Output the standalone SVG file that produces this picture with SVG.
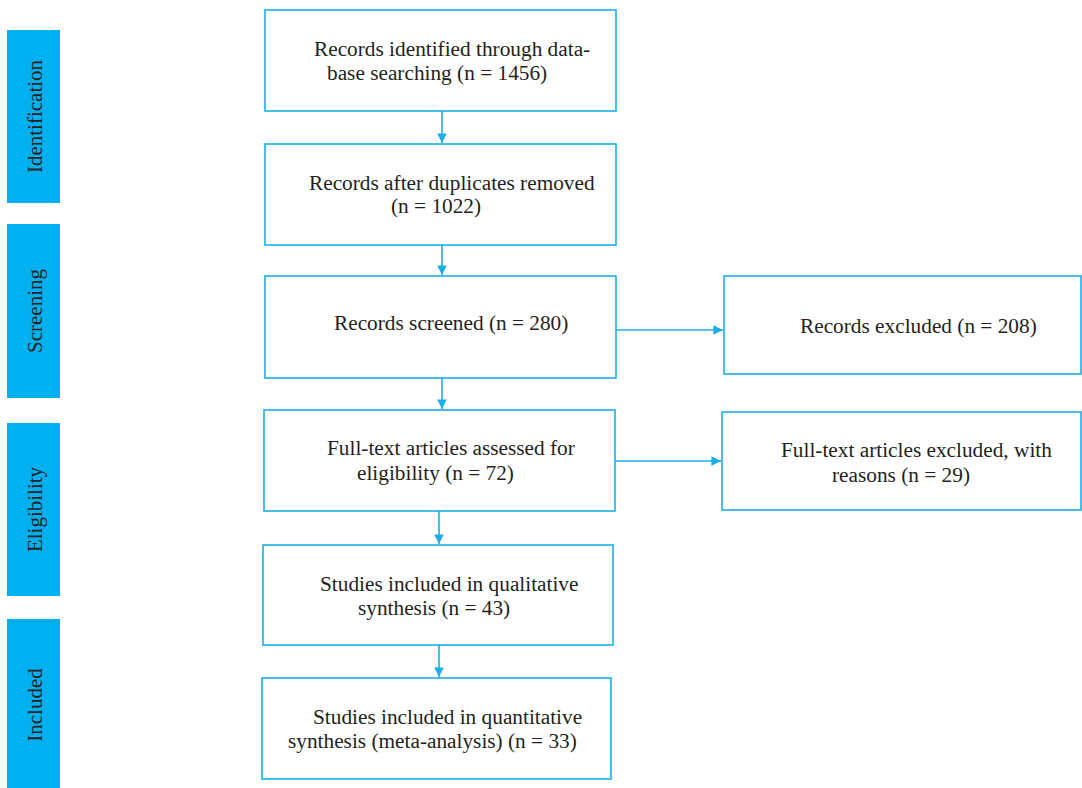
<svg xmlns="http://www.w3.org/2000/svg" width="1082" height="788" viewBox="0 0 1082 788">
<defs>
<style>
.box{fill:#fff;stroke:#1aaee8;stroke-width:1.6}
.bar{fill:#00b0f0}
.t{font-family:"Liberation Serif","Times New Roman",serif;font-size:21.3px;fill:#231f20}
.side{font-family:"Liberation Serif","Times New Roman",serif;font-size:21px;fill:#231f20;text-anchor:middle}
.con{stroke:#1aaee8;stroke-width:1.6;fill:none;marker-end:url(#ah)}
</style>
<marker id="ah" viewBox="0 0 10 10" refX="10" refY="5" markerWidth="6" markerHeight="6" markerUnits="strokeWidth" orient="auto">
<path d="M0,0 L10,5 L0,10 z" fill="#1aaee8"/>
</marker>
</defs>
<rect width="1082" height="788" fill="#fff"/>
<g id="phase-identification"><rect class="bar" x="7" y="30" width="53" height="173"/><text class="side" transform="translate(42,116.5) rotate(-90)">Identification</text></g>
<g id="phase-screening"><rect class="bar" x="7" y="224" width="53" height="174"/><text class="side" transform="translate(42,311) rotate(-90)">Screening</text></g>
<g id="phase-eligibility"><rect class="bar" x="7" y="423" width="53" height="173"/><text class="side" transform="translate(42,509.5) rotate(-90)">Eligibility</text></g>
<g id="phase-included"><rect class="bar" x="7" y="619" width="53" height="169"/><text class="side" transform="translate(42,705) rotate(-90)">Included</text></g>
<g id="n1"><rect class="box" x="265" y="10" width="351" height="101"/><text class="t" x="314" y="56">Records identified through data-</text><text class="t" x="327" y="80">base searching (n = 1456)</text></g>
<g id="n2"><rect class="box" x="265" y="144" width="351" height="101"/><text class="t" x="309" y="190">Records after duplicates removed</text><text class="t" x="391" y="213">(n = 1022)</text></g>
<g id="n3"><rect class="box" x="265" y="276" width="351" height="102"/><text class="t" x="334" y="330">Records screened (n = 280)</text></g>
<g id="n4"><rect class="box" x="264" y="410" width="351" height="101"/><text class="t" x="327" y="455">Full-text articles assessed for</text><text class="t" x="357" y="480">eligibility (n = 72)</text></g>
<g id="n5"><rect class="box" x="263" y="545" width="350" height="100"/><text class="t" x="320" y="591">Studies included in qualitative</text><text class="t" x="358" y="615">synthesis (n = 43)</text></g>
<g id="n6"><rect class="box" x="262" y="678" width="349" height="101"/><text class="t" x="313" y="724">Studies included in quantitative</text><text class="t" x="288" y="748">synthesis (meta-analysis) (n = 33)</text></g>
<g id="r1"><rect class="box" x="724" y="276" width="357" height="98"/><text class="t" x="800" y="333">Records excluded (n = 208)</text></g>
<g id="r2"><rect class="box" x="722" y="412" width="359" height="98"/><text class="t" x="781" y="457">Full-text articles excluded, with</text><text class="t" x="832" y="482">reasons (n = 29)</text></g>
<g id="connectors">
<line class="con" x1="442" y1="111" x2="442" y2="143"/>
<line class="con" x1="442" y1="245" x2="442" y2="275"/>
<line class="con" x1="442" y1="378" x2="442" y2="409"/>
<line class="con" x1="439" y1="511" x2="439" y2="544"/>
<line class="con" x1="439" y1="645" x2="439" y2="677"/>
<line class="con" x1="616" y1="330" x2="723" y2="330"/>
<line class="con" x1="615" y1="461" x2="721" y2="461"/>
</g>
</svg>
